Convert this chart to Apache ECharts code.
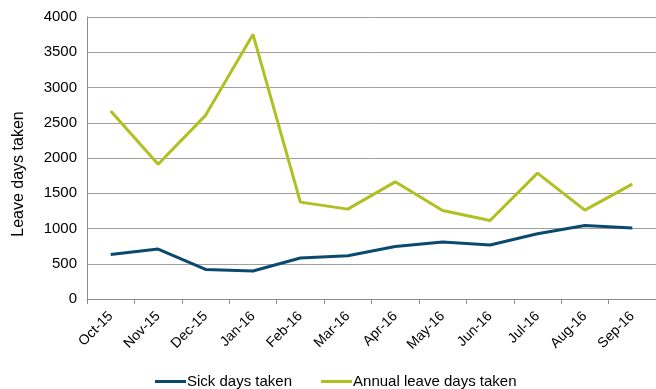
<!DOCTYPE html>
<html><head><meta charset="utf-8">
<script src="https://cdn.jsdelivr.net/npm/echarts@6/dist/echarts.min.js"></script>
<style>html,body{margin:0;padding:0;background:#fff}#c{width:656px;height:389px}</style>
</head><body><div id="c"></div>
<script>
const categories = ['Oct-15','Nov-15','Dec-15','Jan-16','Feb-16','Mar-16','Apr-16','May-16','Jun-16','Jul-16','Aug-16','Sep-16'];
const sickDays = [632, 708, 420, 397, 581, 613, 745, 807, 765, 925, 1043, 1006];
const annualLeave = [2667, 1912, 2605, 3753, 1374, 1275, 1662, 1255, 1113, 1785, 1261, 1629];
const yTicks = [0, 500, 1000, 1500, 2000, 2500, 3000, 3500, 4000];

const chart = echarts.init(document.getElementById('c'), null, {renderer: 'canvas'});
const font = 'Liberation Sans, Arial, sans-serif';
chart.setOption({
  animation: false,
  textStyle: {fontFamily: font},
  grid: {left: 87, top: 17, width: 570, height: 282, containLabel: false},
  legend: {
    top: 369, left: 150, itemGap: 29, itemWidth: 31, itemHeight: 3,
    icon: 'rect',
    textStyle: {fontSize: 15, color: '#000', fontFamily: font, padding: [0,0,0,-4]},
    data: ['Sick days taken', 'Annual leave days taken']
  },
  xAxis: {
    type: 'category', data: categories, boundaryGap: true,
    axisLine: {lineStyle: {color: '#8c8c8c', width: 1}},
    axisTick: {show: true, length: 5, lineStyle: {color: '#8c8c8c'}},
    axisLabel: {rotate: 45, fontSize: 14, color: '#000', margin: 15, interval: 0}
  },
  yAxis: {
    type: 'value', min: yTicks[0], max: yTicks[yTicks.length-1], interval: 500,
    name: 'Leave days taken', nameLocation: 'middle', nameGap: 60,
    nameTextStyle: {fontSize: 16, color: '#000', padding: [0, 32, 0, 0]},
    axisLine: {show: true, lineStyle: {color: '#8c8c8c'}},
    axisTick: {show: false},
    axisLabel: {fontSize: 15, color: '#000', margin: 10, formatter: v => String(v)},
    splitLine: {lineStyle: {color: '#a0a0a0', width: 1}}
  },
  series: [
    {name: 'Sick days taken', type: 'line', data: sickDays, symbol: 'none',
     lineStyle: {color: '#0b4a6f', width: 3}, itemStyle: {color: '#0b4a6f'}},
    {name: 'Annual leave days taken', type: 'line', data: annualLeave, symbol: 'none',
     lineStyle: {color: '#b0c021', width: 3}, itemStyle: {color: '#b0c021'}}
  ]
});
</script></body></html>
